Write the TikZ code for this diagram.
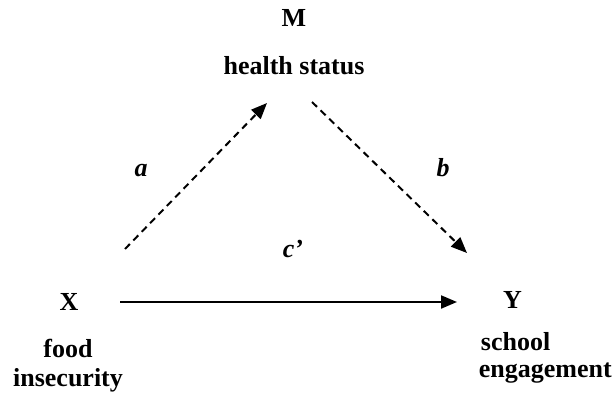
\documentclass[tikz,border=0pt]{standalone}
\usepackage{fontspec}
\setmainfont{Liberation Serif}
\usetikzlibrary{arrows.meta}
\begin{document}
\begin{tikzpicture}[x=1pt,y=-1pt,
  lbl/.style={font=\fontsize{26}{30}\selectfont\bfseries, inner sep=0pt, anchor=base},
  coef/.style={font=\fontsize{26}{30}\selectfont\bfseries\itshape, inner sep=0pt, anchor=base},
  link/.style={line width=2pt, -{Triangle[length=16pt,width=13pt]}},
  dlink/.style={link, dash pattern=on 7pt off 5pt}]
\useasboundingbox (0,0) rectangle (613,398);
\node[lbl] (M) at (294,27) {M};
\node[lbl] (Mt) at (294,75) {health status};
\node[lbl] (X) at (69,310) {X};
\node[lbl] (Xt1) at (68,357) {food};
\node[lbl] (Xt2) at (68,386) {insecurity};
\node[lbl, anchor=base east] (Yt2) at (612,377) {engagement};
\node[lbl, anchor=base west] (Yt1) at ([xshift=2pt]Yt2.base west |- 0,350) {school};
\node[lbl] (Y) at ([xshift=-3pt]Yt1.base |- 0,308) {Y};
\node[coef] (a) at (141,177) {a};
\node[coef] (b) at (443,177) {b};
\node[coef] (c) at (293,258) {c’};
\coordinate (aS) at (125,249);
\coordinate (aE) at (267,103);
\coordinate (bS) at (312,102);
\coordinate (bE) at (467,253);
\coordinate (cS) at (120,302);
\coordinate (cE) at (457,302);
\draw[dlink] (aS) -- (aE);
\draw[dlink] (bS) -- (bE);
\draw[link] (cS) -- (cE);
\end{tikzpicture}
\end{document}
